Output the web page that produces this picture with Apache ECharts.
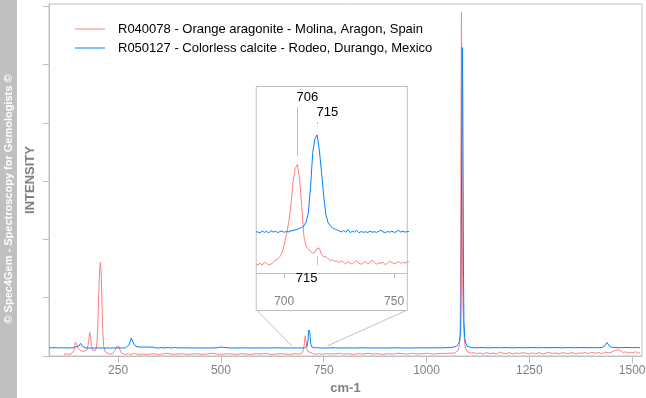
<!DOCTYPE html>
<html>
<head>
<meta charset="utf-8">
<script src="https://cdn.jsdelivr.net/npm/echarts@6/dist/echarts.min.js"></script>
<style>
  html, body { margin: 0; padding: 0; background: #fff; }
  #chart { width: 646px; height: 398px; }
</style>
</head>
<body>
<div id="chart"></div>
<script>
// aragonite (red) - wavenumber cm-1 / intensity
const redX = [
  118, 124, 130, 136, 140, 143, 146, 149, 152, 156, 160, 164, 168, 172, 175, 178, 181, 183, 185, 188,
  191, 194, 197, 199, 201, 203, 205, 207, 209, 211, 213, 215, 218, 222, 226, 230, 236, 240, 243, 246,
  249, 252, 255, 258, 262, 266, 270, 275, 280, 285, 290, 295, 300,
  310, 322, 334, 346, 358, 370, 382, 394, 406, 418, 430, 442, 454, 466, 478, 490, 502, 514, 526, 538,
  550, 562, 574, 586, 598, 610, 622, 634, 646, 658, 670, 680, 686,
  688, 689, 690, 691, 692, 693, 694, 695, 696, 697, 698, 699, 700, 701, 702, 703, 704, 705, 706, 707,
  708, 709, 710, 711, 712, 713, 714, 715, 716, 717, 718, 719, 720, 721, 722, 723, 724, 725, 726, 727,
  728, 729, 730, 731, 732, 733, 734, 735, 736, 737, 738, 739, 740, 741, 742, 743, 744, 745, 746, 747,
  748, 749, 750, 751, 752, 753, 754, 755, 756,
  762, 774, 786, 798, 810, 822, 834, 846, 858, 870, 882, 894, 906, 918, 930, 942, 954, 966, 978, 990,
  1002, 1014, 1026, 1038, 1048, 1056, 1062, 1068, 1072, 1076, 1079, 1081, 1082, 1083, 1084, 1085, 1086,
  1087, 1088, 1089, 1091, 1093, 1095, 1098, 1102, 1108,
  1115, 1122, 1130, 1138, 1146, 1154, 1162, 1170, 1178, 1186, 1194, 1202, 1210, 1218, 1226, 1234, 1242,
  1250, 1258, 1266, 1274, 1282, 1290, 1298, 1306, 1314, 1322, 1330, 1338, 1346, 1354, 1362, 1370, 1378,
  1386, 1394, 1402, 1410, 1418, 1426, 1434, 1442, 1448, 1454, 1460, 1464, 1468, 1472, 1478, 1484, 1490,
  1496, 1502, 1508, 1514, 1519
];
const redY = [
  4, 5, 4.5, 5, 7, 15, 36, 30, 20, 15, 13, 10, 12, 10, 16, 35, 61, 50, 25, 15,
  17, 14, 20, 40, 90, 160, 220, 241, 215, 130, 60, 25, 12, 8, 6, 4, 5, 7, 15, 24,
  27, 25, 15, 8, 6, 4, 5, 6, 4, 5, 7, 5, 4,
  5, 4, 6, 4, 5, 7, 4, 5, 6, 4, 5, 6, 4, 5, 7, 5, 4, 6, 5, 4,
  6, 5, 4, 6, 5, 7, 4, 5, 6, 5, 4, 6, 5,
  4, 5, 4, 5.5, 4.8, 4.2, 4.5, 5.3, 6.5, 7, 8.2, 10, 14, 19, 25, 33, 45, 52, 54, 47,
  33, 18, 13.5, 12, 10.8, 10, 10.5, 12.5, 12.3, 9.5, 8, 8.3, 7.2, 6.2, 6.8, 5.8, 6.2, 5.2, 6, 5.5,
  4.6, 5.8, 5, 4.5, 5.6, 6.3, 5, 4.4, 5.2, 5.8, 4.7, 5.1, 6.6, 5.4, 4.5, 5.2, 4.8, 5.5, 4.2, 5,
  6, 5.3, 4.6, 5.1, 5.7, 4.9, 5.4, 5, 5.6,
  6, 5, 7, 5, 6, 4, 6, 5, 7, 5, 6, 4, 6, 5, 7, 6, 5, 7, 5, 6,
  7, 5, 6, 7, 6, 8, 7, 8, 9, 13, 22, 40, 80, 300, 636, 885, 700,
  350, 180, 114, 60, 30, 18, 12, 9, 7,
  9, 6, 8, 5, 9, 6, 8, 5, 10, 7, 6, 9, 5, 8, 6, 9, 7,
  5, 8, 6, 9, 5, 7, 10, 6, 8, 5, 9, 7, 6, 10, 5, 8, 7,
  9, 6, 10, 7, 9, 6, 10, 8, 9, 12, 15, 17, 16, 12, 9, 11, 7,
  10, 8, 11, 7, 9
];

// calcite (blue)
const blueX = [
  82, 88, 92, 100, 106, 112, 118, 126, 134, 140, 144, 148, 151, 154, 157, 159, 161, 164, 167, 172,
  180, 190, 200, 215, 230, 245, 260, 268, 272, 276, 279, 282, 284, 286, 289, 292, 296, 305, 315, 325,
  335, 340, 346, 356, 362, 372, 378, 388, 395, 410, 430, 450, 470, 490, 500, 502, 520, 540, 560, 580,
  600, 620, 640, 660, 675, 686,
  688, 689, 690, 691, 692, 693, 694, 695, 696, 697, 698, 699, 700, 701, 702, 703, 704, 705, 706, 707,
  708, 709, 710, 711, 712, 713, 714, 715, 716, 717, 718, 719, 720, 721, 722, 723, 724, 725, 726, 727,
  728, 729, 730, 731, 732, 733, 734, 735, 736, 737, 738, 739, 740, 741, 742, 743, 744, 745, 746, 747,
  748, 749, 750, 751, 752, 753, 754, 755, 756,
  760, 775, 790, 805, 820, 840, 860, 880, 900, 920, 940, 960, 980, 1000, 1020, 1040, 1055, 1065, 1072,
  1077, 1080, 1082, 1083, 1084, 1085, 1086, 1087, 1088, 1089, 1090, 1091, 1093, 1096, 1099, 1103,
  1110, 1120, 1135, 1150, 1165, 1180, 1195, 1210, 1225, 1240, 1255, 1270, 1285, 1300, 1315, 1330, 1345,
  1360, 1375, 1390, 1405, 1418, 1426, 1432, 1436, 1439, 1442, 1445, 1450, 1458, 1470, 1485, 1500, 1510,
  1519
];
const blueY = [
  20.6, 21.5, 20.6, 21.2, 20.6, 21.5, 20.6, 21.2, 20.6, 21, 22, 24, 26, 25.5, 29, 32.5, 29, 24, 21, 20.6,
  20.6, 20.6, 20.8, 20.6, 20.6, 20.8, 20.6, 21, 23, 28, 36, 46, 43, 37, 29, 25, 23.5, 23, 23.2, 22.8,
  23, 21, 20.6, 21.8, 20.6, 21.8, 20.6, 21.8, 20.6, 21, 20.6, 20.8, 20.6, 21, 23, 20.6, 20.8, 20.6, 20.9, 20.6,
  20.8, 20.6, 21, 20.6, 20.8, 20.6,
  20.5, 20, 21, 20.3, 20.8, 20, 21.2, 20.4, 20.9, 20.2, 20.6, 21, 20.3, 20.8, 20.5, 21, 21.2, 21.5, 21.8, 22.3,
  22.8, 23.5, 25.5, 30, 43, 60, 67, 68.7, 61, 50, 38, 29, 25, 23.5, 22.5, 22, 21.5, 21, 20.5, 21.2,
  20.4, 21.6, 20.2, 20.8, 20.5, 21.3, 20.1, 20.7, 20.3, 20.6, 20.2, 20.9, 20.4, 20.6, 20.3, 20.8, 21.4, 20.5, 20.2, 20.7,
  20.4, 20.9, 20.3, 20.6, 21.3, 20.5, 20.8, 20.4, 20.7,
  20.6, 21, 20.6, 20.9, 20.6, 21, 20.6, 20.8, 20.6, 21, 20.7, 20.6, 21.1, 20.8, 21.2, 21, 21.8, 22.5, 25,
  30, 36, 41, 60, 150, 400, 650, 794, 705, 450, 200, 90, 45, 32, 25, 22.5,
  21.5, 21, 21.8, 21, 21.6, 21.2, 21.8, 21, 21.5, 21.2, 21.9, 21.1, 21.6, 21.3, 21.8, 21, 21.7,
  21.2, 21.9, 21.3, 21.6, 21.4, 22, 24.5, 29, 34.5, 30, 25, 22.5, 21.8, 21.4, 21.9, 21.3, 21.8,
  21.5
];

const xTicks = [250, 500, 750, 1000, 1250, 1500];
const yTicks = [0, 150, 300, 450, 600, 750, 900];
const insetTicks = [700, 750];
const seriesNames = [
  'R040078 - Orange aragonite - Molina, Aragon, Spain',
  'R050127 - Colorless calcite - Rodeo, Durango, Mexico'
];
// peak labels in the inset: [wavenumber, series]
const insetPeaks = [[706, 0], [715, 1], [715, 0]];

const RED = '#ff8080';
const BLUE = '#0080ff';
const GRAY = '#c0c0c0';
const TXT = '#808080';
const FONT = 'Liberation Sans, Arial, sans-serif';

const zip = (xs, ys) => xs.map((x, i) => [x, ys[i]]);
const redData = zip(redX, redY);
const blueData = zip(blueX, blueY);

const chart = echarts.init(document.getElementById('chart'), null, { renderer: 'canvas' });

const mkSeries = (name, data, color, idx, z) => ({
  name, type: 'line', data,
  xAxisIndex: idx, yAxisIndex: idx,
  showSymbol: false, symbol: 'none', silent: true, z,
  lineStyle: { color, width: 1 }, itemStyle: { color },
  animation: false
});

chart.setOption({
  animation: false,
  textStyle: { fontFamily: FONT },
  legend: {
    data: seriesNames,
    orient: 'vertical',
    left: 75, top: 22, padding: 0,
    icon: 'rect', itemWidth: 30, itemHeight: 1, itemGap: 5,
    selectedMode: false,
    textStyle: { fontSize: 13, color: '#000', fontFamily: FONT, padding: [0, 0, 0, 8], lineHeight: 14 }
  },
  grid: [
    { left: 49, right: 4, top: 4, bottom: 42, outerBoundsMode: 'none', containLabel: false,
      show: true, borderColor: GRAY, borderWidth: 1, backgroundColor: 'transparent' },
    { left: 256.7, right: 238.7, top: 86, bottom: 110.7, outerBoundsMode: 'none', containLabel: false, z: 10 }
  ],
  xAxis: [
    {
      type: 'value', gridIndex: 0, min: 82, max: 1524,
      name: 'cm-1', nameLocation: 'middle', nameGap: 26,
      nameTextStyle: { color: TXT, fontWeight: 'bold', fontSize: 13, fontFamily: FONT },
      axisLine: { lineStyle: { color: GRAY } },
      axisTick: { customValues: xTicks, length: 7, lineStyle: { color: GRAY } },
      axisLabel: { customValues: xTicks, color: TXT, fontSize: 12, margin: 9, fontFamily: FONT, formatter: v => String(v) },
      splitLine: { show: false }
    },
    {
      type: 'value', gridIndex: 1, min: 687.5, max: 756, z: 10,
      axisLine: { lineStyle: { color: GRAY } },
      axisTick: { customValues: insetTicks, length: 5, lineStyle: { color: GRAY } },
      axisLabel: { customValues: insetTicks, color: TXT, fontSize: 12, margin: 8, fontFamily: FONT, formatter: v => String(v) },
      splitLine: { show: false }
    }
  ],
  yAxis: [
    {
      type: 'value', gridIndex: 0, min: 0, max: 906,
      name: 'INTENSITY', nameLocation: 'middle', nameRotate: 90, nameGap: 12,
      nameTextStyle: { color: TXT, fontWeight: 'bold', fontSize: 13, fontFamily: FONT },
      axisLine: { show: true, lineStyle: { color: GRAY } },
      axisTick: { show: true, customValues: yTicks, length: 6, lineStyle: { color: GRAY } },
      axisLabel: { show: false },
      splitLine: { show: false }
    },
    { type: 'value', gridIndex: 1, min: -7, max: 93, show: false }
  ],
  series: [
    mkSeries(seriesNames[0], redData, RED, 0, 2),
    mkSeries(seriesNames[1], blueData, BLUE, 0, 2),
    mkSeries(seriesNames[0], redData, RED, 1, 10),
    mkSeries(seriesNames[1], blueData, BLUE, 1, 10)
  ]
});

// inset frame, zoom guide lines and peak labels
const px = (g, p) => chart.convertToPixel({ gridIndex: g }, p);
const valAt = (data, x) => data.find(d => d[0] === x)[1];
const boxL = 256.7, boxR = 407.3, boxT = 86, boxB = 310;
const gFrom = px(0, [672, 26]);
const gTo = px(0, [759, 26]);

const graphics = [
  { type: 'rect', z: 0, silent: true, shape: { x: 0, y: 0, width: 17, height: 398 }, style: { fill: GRAY } },
  {
    type: 'text', z: 1, silent: true, x: 9, y: 199, rotation: Math.PI / 2,
    style: { text: '© Spec4Gem - Spectroscopy for Gemologists ©', fill: '#fff', font: 'bold 11px ' + FONT, align: 'center', verticalAlign: 'middle' }
  },
  { type: 'line', z: 5, silent: true, shape: { x1: boxL, y1: boxB, x2: gFrom[0], y2: gFrom[1] }, style: { stroke: GRAY, lineWidth: 1 } },
  { type: 'line', z: 5, silent: true, shape: { x1: boxR, y1: boxB, x2: gTo[0], y2: gTo[1] }, style: { stroke: GRAY, lineWidth: 1 } },
  {
    type: 'rect', z: 5, silent: true,
    shape: { x: boxL - 0.5, y: boxT + 0.5, width: boxR - boxL + 0.5, height: boxB - boxT },
    style: { fill: '#fff', stroke: GRAY, lineWidth: 1 }
  }
];

insetPeaks.forEach(([wn, s], i) => {
  const data = s === 0 ? redData : blueData;
  const p = px(1, [wn, valAt(data, wn)]);
  const lx = Math.round(p[0]) + 0.5;
  let shape, tx, ty, align, dash = null;
  if (i === 0) {
    shape = { x1: lx, y1: boxT + 21, x2: lx, y2: p[1] - 8 };
    tx = lx - 1; ty = boxT + 11; align = 'left';
  } else if (i === 1) {
    shape = { x1: lx, y1: p[1] - 13, x2: lx, y2: p[1] - 8 };
    tx = lx - 1; ty = p[1] - 22; align = 'left'; dash = [2, 2];
  } else {
    shape = { x1: lx, y1: p[1] + 8, x2: lx, y2: p[1] + 17 };
    tx = lx; ty = p[1] + 30; align = 'right';
  }
  graphics.push({ type: 'line', z: 20, silent: true, shape, style: { stroke: GRAY, lineWidth: 1, lineDash: dash } });
  graphics.push({
    type: 'text', z: 20, silent: true, x: tx, y: ty,
    style: { text: String(wn), fill: '#000', font: '13px ' + FONT, align, verticalAlign: 'middle' }
  });
});

chart.setOption({ graphic: graphics });
</script>
</body>
</html>
